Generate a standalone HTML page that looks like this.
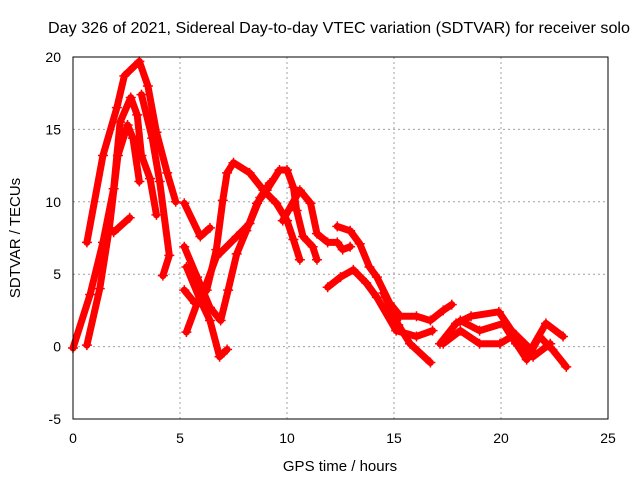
<!DOCTYPE html>
<html><head><meta charset="utf-8"><style>
body{margin:0;background:#fff;}
svg{display:block;font-family:"Liberation Sans",sans-serif;}
</style></head><body>
<svg id="chart" width="640" height="480">
<text x="48" y="33" font-size="15.5" textLength="582" lengthAdjust="spacingAndGlyphs">Day 326 of 2021, Sidereal Day-to-day VTEC variation (SDTVAR) for receiver solo</text>
<text x="340" y="471" font-size="15" text-anchor="middle">GPS time / hours</text>
<text transform="translate(20,238) rotate(-90)" font-size="15" text-anchor="middle">SDTVAR / TECUs</text>
<g id="grid"></g><g id="ticks"></g><g id="series"></g>
<rect x="73" y="57" width="535" height="362" fill="none" stroke="#000" stroke-width="1"/>
</svg>
<script>
const xTicks=[0,5,10,15,20,25];
const yTicks=[-5,0,5,10,15,20];
const t1h=[0.65,1.4,2.05,2.4,3.1,3.5,3.9,4.4,4.8];
const t1v=[7.2,13.2,16.5,18.7,19.7,18,14.8,12,10];
const t2h=[0,0.8,1.4,1.9,2.2,2.7,3.0,3.2,3.6,3.9];
const t2v=[-0.1,3.6,7.2,10.9,15.5,17.2,16,13.2,11.6,9.1];
const t3h=[0.65,1.25,1.7,2.1,2.55,2.8,3.1];
const t3v=[0.1,4,8.2,13.2,15.3,14.4,11.4];
const t4h=[3.2,3.7,4.05,4.5,4.2];
const t4v=[17.4,14.4,11.4,6.3,4.9];
const t4bh=[1.9,2.65];
const t4bv=[7.9,8.9];
const t5h=[5.2,5.95,6.4];
const t5v=[9.9,7.6,8.2];
const t6h=[5.2,5.8,6.4,6.9,7.25,7.65,8.1,8.6,9.05,9.65,10,10.3,10.45,10.75,11.2,11.4];
const t6v=[6.9,4.8,2.7,1.8,3.9,6.4,8.0,9.9,10.8,12.2,12.2,11,9.4,7.6,6.9,6.0];
const t7h=[5.3,5.95,6.4,6.85,7.2];
const t7v=[5.5,3.2,1.8,-0.7,-0.2];
const t8h=[5.2,5.7,6.25,6.7,7.0,7.2,7.5,8.25,8.9,9.5,10,10.3,10.6];
const t8v=[3.9,3.0,3.9,6.7,10.1,12.0,12.7,12,10.8,9.9,8.7,7.4,6.0];
const t9h=[5.3,5.8,6.25,6.7,7.65,8.25,8.75,9.2];
const t9v=[1.0,3.0,4.4,6.2,7.6,8.5,10.3,11.3];
const t11h=[9.8,10.6,11.1,11.4,11.9,12.35,12.6,12.95];
const t11v=[8.7,10.8,9.9,7.8,7.2,7.2,6.7,6.9];
const t12h=[12.35,12.95,13.4,13.85,14.2,14.8,15.3,16.05,16.7,17.3,17.7];
const t12v=[8.3,8.0,7.1,5.5,4.8,3.0,2.1,2.1,1.8,2.5,2.9];
const t13h=[11.9,12.5,13.1,13.7,14.2,15.1,16.05,16.8];
const t13v=[4.1,4.8,5.3,4.4,3.4,1.1,0.7,1.1];
const t15h=[14.5,15.2,15.75,16.7];
const t15v=[3.7,1.5,0.2,-1.1];
const t16h=[17.15,17.9,18.6,19.9,20.5,21.4,22.1,22.9];
const t16v=[0.2,1.6,2.1,2.4,1.1,-0.2,1.6,0.7];
const t17h=[17.3,18.1,19.0,19.95,20.5,21.2,21.8,22.4,23.05];
const t17v=[0.2,1.1,0.2,0.2,0.7,-0.9,0.7,-0.2,-1.4];
const t18h=[18.1,19,20.1,20.7,21.5,22.3];
const t18v=[1.8,1.1,1.6,0.2,-0.7,0.2];
const tracks=[[t1h,t1v],[t2h,t2v],[t3h,t3v],[t4h,t4v],[t4bh,t4bv],[t5h,t5v],[t6h,t6v],[t7h,t7v],[t8h,t8v],[t9h,t9v],[t11h,t11v],[t12h,t12v],[t13h,t13v],[t15h,t15v],[t16h,t16v],[t17h,t17v],[t18h,t18v]];
const NS="http://www.w3.org/2000/svg";
const X=h=>73+h*21.4, Y=v=>346.6-v*14.48;
const grid=document.getElementById('grid'),ticks=document.getElementById('ticks'),ser=document.getElementById('series');
function mk(tag,attrs,parent){const e=document.createElementNS(NS,tag);for(const k in attrs)e.setAttribute(k,attrs[k]);parent.appendChild(e);return e;}
xTicks.forEach(t=>{
  if(t>0&&t<25){const g=mk('line',{x1:X(t),x2:X(t),y1:57,y2:419,stroke:'#a0a0a0','stroke-dasharray':'2,3'},grid);
  
  }
  const l=mk('text',{x:X(t),y:443,'font-size':14,'text-anchor':'middle'},ticks);l.textContent=t;
  
  
});
yTicks.forEach(t=>{
  if(t>-5&&t<20){const g=mk('line',{x1:73,x2:608,y1:Y(t),y2:Y(t),stroke:'#a0a0a0','stroke-dasharray':'2,3'},grid);
  
  }
  const l=mk('text',{x:61,y:Y(t)+5,'font-size':14,'text-anchor':'end'},ticks);l.textContent=t;
  
  
});
tracks.forEach(([hs,vs],i)=>{
  const pts=hs.map((h,j)=>X(h)+','+Y(vs[j])).join(' ');
  const p=mk('polyline',{points:pts,fill:'none',stroke:'#ff0000','stroke-width':7,'stroke-linejoin':'round','stroke-linecap':'round'},ser);
  
  
  hs.forEach((h,j)=>{
    const x=X(h),y=Y(vs[j]);
    const m=mk('path',{d:`M${x-5},${y}H${x+5}M${x},${y-5}V${y+5}`,stroke:'#ff0000','stroke-width':1.5},ser);
    
    
  });
});
</script>
</body></html>
